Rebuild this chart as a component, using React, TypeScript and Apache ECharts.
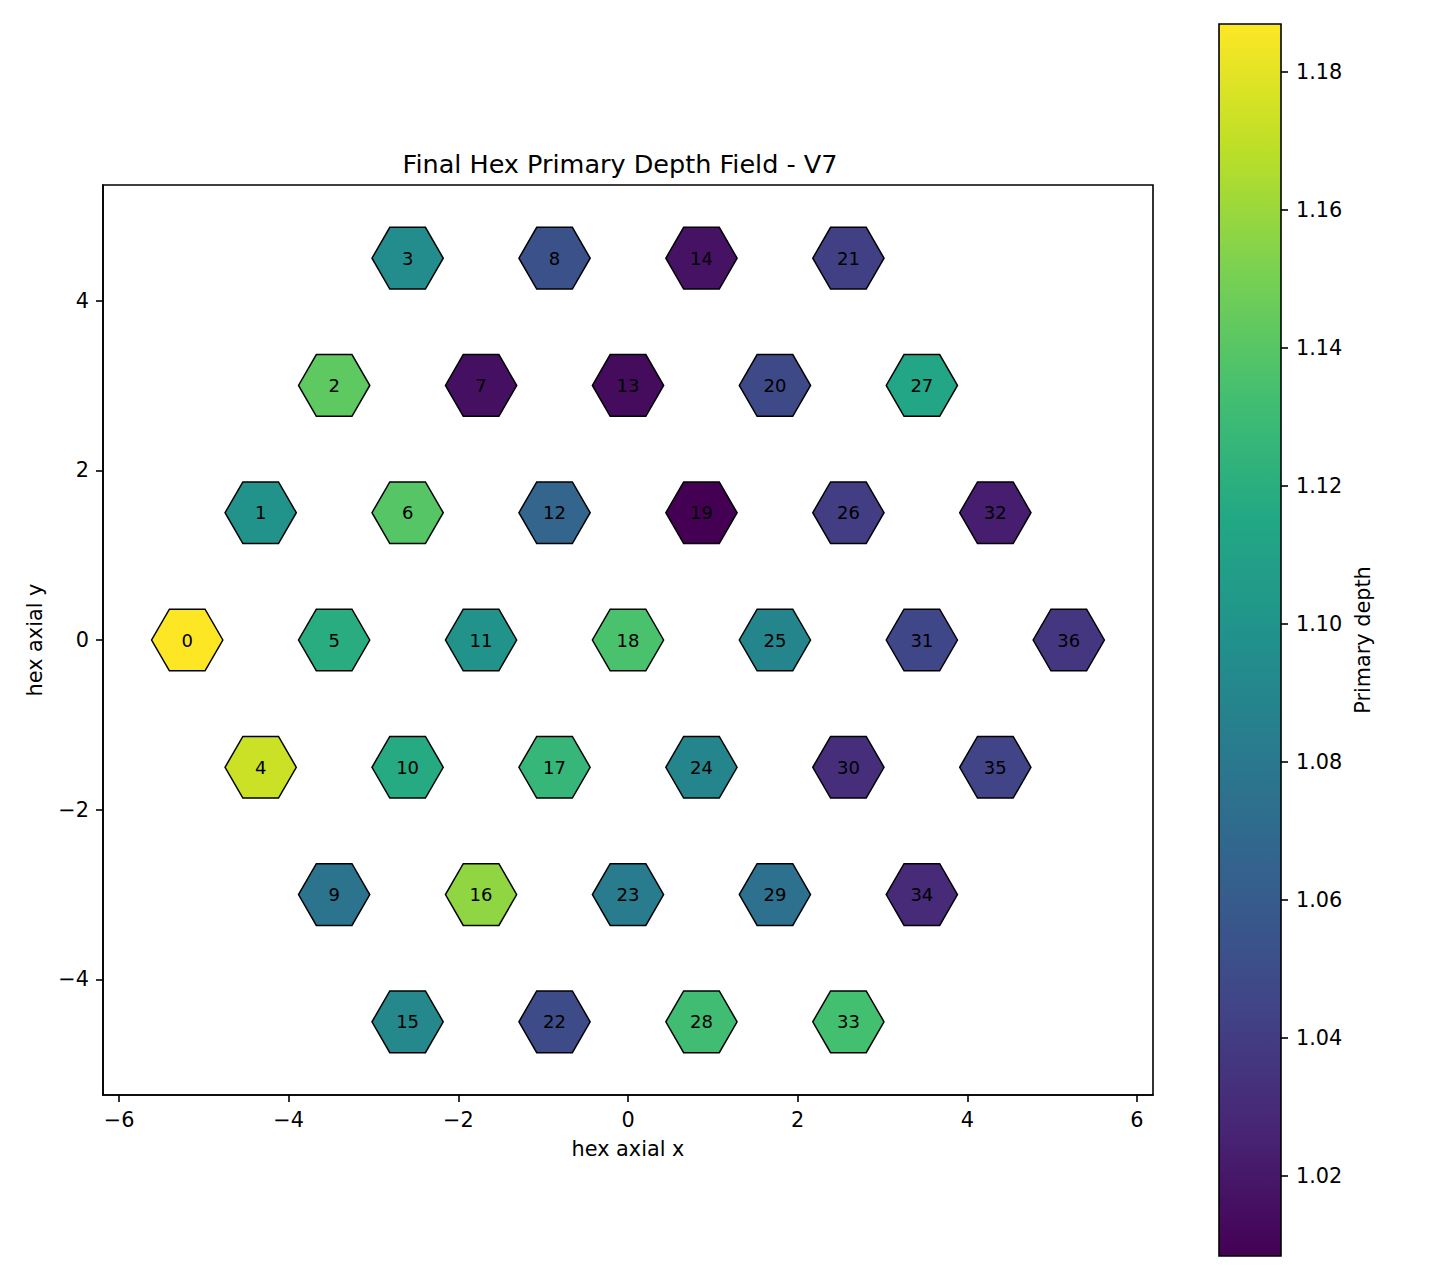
import React, { useEffect, useRef } from 'react'
import * as echarts from 'echarts'

// cell ids and their axial (q, r) coordinates on the hex grid
const cellIds = [
  0, 1, 2, 3, 4, 5, 6, 7, 8, 9, 10, 11, 12, 13, 14, 15, 16, 17, 18,
  19, 20, 21, 22, 23, 24, 25, 26, 27, 28, 29, 30, 31, 32, 33, 34, 35, 36,
]
const hexQ = [
  -3, -3, -3, -3, -2, -2, -2, -2, -2, -1, -1, -1, -1, -1, -1, 0, 0, 0, 0,
  0, 0, 0, 1, 1, 1, 1, 1, 1, 2, 2, 2, 2, 2, 3, 3, 3, 3,
]
const hexR = [
  0, 1, 2, 3, -1, 0, 1, 2, 3, -2, -1, 0, 1, 2, 3, -3, -2, -1, 0,
  1, 2, 3, -3, -2, -1, 0, 1, 2, -3, -2, -1, 0, 1, -3, -2, -1, 0,
]
// primary depth per cell
const depthValues = [
  1.1869, 1.099, 1.142, 1.094, 1.173, 1.119, 1.139, 1.016, 1.053, 1.076,
  1.117, 1.099, 1.066, 1.014, 1.017, 1.091, 1.157, 1.126, 1.135, 1.0084,
  1.048, 1.042, 1.049, 1.082, 1.089, 1.089, 1.04, 1.114, 1.131, 1.075,
  1.032, 1.046, 1.023, 1.133, 1.03, 1.044, 1.037,
]

const xTicks = [-6, -4, -2, 0, 2, 4, 6]
const yTicks = [-4, -2, 0, 2, 4]
const colorbarTicks = [1.02, 1.04, 1.06, 1.08, 1.1, 1.12, 1.14, 1.16, 1.18]

const DEPTH_MIN = 1.0084
const DEPTH_MAX = 1.1869
const HEX_RADIUS = 0.42

const viridis = [
  '#440154', '#482475', '#414487', '#355f8d', '#2a788e', '#21918c',
  '#22a884', '#44bf70', '#7ad151', '#bddf26', '#fde725',
]

const FONT = 'DejaVu Sans'

const fmtMinus = (v: number) => (v < 0 ? '\u2212' + Math.abs(v) : String(v))

const App: React.FC = () => {
  const chartRef = useRef<HTMLDivElement>(null)

  useEffect(() => {
    if (!chartRef.current) return
    const chart = echarts.init(chartRef.current, undefined, { renderer: 'svg' })

    // hex centres from axial coordinates
    const cells = cellIds.map((id, i) => [
      Math.sqrt(3) * (hexQ[i] + hexR[i] / 2),
      1.5 * hexR[i],
      depthValues[i],
      id,
    ])

    const axisLabelStyle = { color: '#000', fontSize: 20.8, fontFamily: FONT }
    const tickStyle = { color: '#000', width: 1.6 }
    const spine = { show: true, onZero: false, lineStyle: { color: '#000', width: 1.6 } }

    const option: any = {
      animation: false,
      backgroundColor: '#fff',
      textStyle: { fontFamily: FONT },
      title: {
        text: 'Final Hex Primary Depth Field - V7',
        left: 615,
        top: 146,
        textAlign: 'center',
        textStyle: { color: '#000', fontSize: 25.5, fontWeight: 'normal', fontFamily: FONT },
      },
      grid: [
        {
          left: 103,
          top: 185,
          width: 1050,
          height: 910,
          show: true,
          borderColor: '#000',
          borderWidth: 1.6,
          backgroundColor: 'transparent',
        },
        { left: 1219, top: 24, width: 62, height: 1232 },
      ],
      xAxis: [
        {
          type: 'value',
          gridIndex: 0,
          min: -6.189,
          max: 6.189,
          name: 'hex axial x',
          nameLocation: 'middle',
          nameGap: 43,
          nameTextStyle: axisLabelStyle,
          axisLine: spine,
          splitLine: { show: false },
          axisTick: { show: true, length: 7, lineStyle: tickStyle, customValues: xTicks },
          axisLabel: { ...axisLabelStyle, margin: 14, customValues: xTicks, formatter: fmtMinus },
        },
        {
          type: 'value',
          gridIndex: 1,
          min: 0,
          max: 1,
          show: false,
        },
      ],
      yAxis: [
        {
          type: 'value',
          gridIndex: 0,
          min: -5.363,
          max: 5.363,
          name: 'hex axial y',
          nameLocation: 'middle',
          nameGap: 58,
          nameRotate: 90,
          nameTextStyle: axisLabelStyle,
          axisLine: spine,
          splitLine: { show: false },
          axisTick: { show: true, length: 7, lineStyle: tickStyle, customValues: yTicks },
          axisLabel: { ...axisLabelStyle, margin: 14, customValues: yTicks, formatter: fmtMinus },
        },
        {
          type: 'value',
          gridIndex: 1,
          position: 'right',
          min: DEPTH_MIN,
          max: DEPTH_MAX,
          name: 'Primary depth',
          nameLocation: 'middle',
          nameGap: 71,
          nameRotate: 90,
          nameTextStyle: axisLabelStyle,
          axisLine: { show: false, onZero: false },
          splitLine: { show: false },
          axisTick: { show: true, length: 7, lineStyle: tickStyle, customValues: colorbarTicks },
          axisLabel: {
            ...axisLabelStyle,
            margin: 15,
            customValues: colorbarTicks,
            formatter: (v: number) => v.toFixed(2),
          },
        },
      ],
      visualMap: {
        type: 'continuous',
        show: false,
        seriesIndex: 0,
        dimension: 2,
        min: DEPTH_MIN,
        max: DEPTH_MAX,
        inRange: { color: viridis },
      },
      series: [
        {
          type: 'custom',
          xAxisIndex: 0,
          yAxisIndex: 0,
          data: cells,
          renderItem: (_params: any, api: any) => {
            const cx = api.value(0)
            const cy = api.value(1)
            const pts: number[][] = []
            for (let k = 0; k < 6; k++) {
              const a = (Math.PI / 3) * k
              pts.push(api.coord([cx + HEX_RADIUS * Math.cos(a), cy + HEX_RADIUS * Math.sin(a)]))
            }
            const c = api.coord([cx, cy])
            return {
              type: 'group',
              children: [
                {
                  type: 'polygon',
                  shape: { points: pts },
                  style: { fill: api.visual('color'), stroke: '#000', lineWidth: 1.5 },
                },
                {
                  type: 'text',
                  x: c[0],
                  y: c[1],
                  style: {
                    text: String(api.value(3)),
                    fill: '#000',
                    fontSize: 18,
                    fontFamily: FONT,
                    align: 'center',
                    verticalAlign: 'middle',
                  },
                },
              ],
            }
          },
        },
        {
          // colour bar
          type: 'custom',
          xAxisIndex: 1,
          yAxisIndex: 1,
          data: [[0, DEPTH_MIN, 1, DEPTH_MAX]],
          renderItem: (_params: any, api: any) => {
            const p0 = api.coord([api.value(0), api.value(3)])
            const p1 = api.coord([api.value(2), api.value(1)])
            return {
              type: 'rect',
              shape: { x: p0[0], y: p0[1], width: p1[0] - p0[0], height: p1[1] - p0[1] },
              style: {
                fill: new echarts.graphic.LinearGradient(
                  0,
                  1,
                  0,
                  0,
                  viridis.map((color, i) => ({ offset: i / (viridis.length - 1), color }))
                ),
                stroke: '#000',
                lineWidth: 1.6,
              },
            }
          },
        },
      ],
    }

    chart.setOption(option)
    return () => {
      chart.dispose()
    }
  }, [])

  return (
    <div
      ref={chartRef}
      style={{ position: 'absolute', left: 0, top: 0, width: 1440, height: 1280 }}
    />
  )
}

export default App
